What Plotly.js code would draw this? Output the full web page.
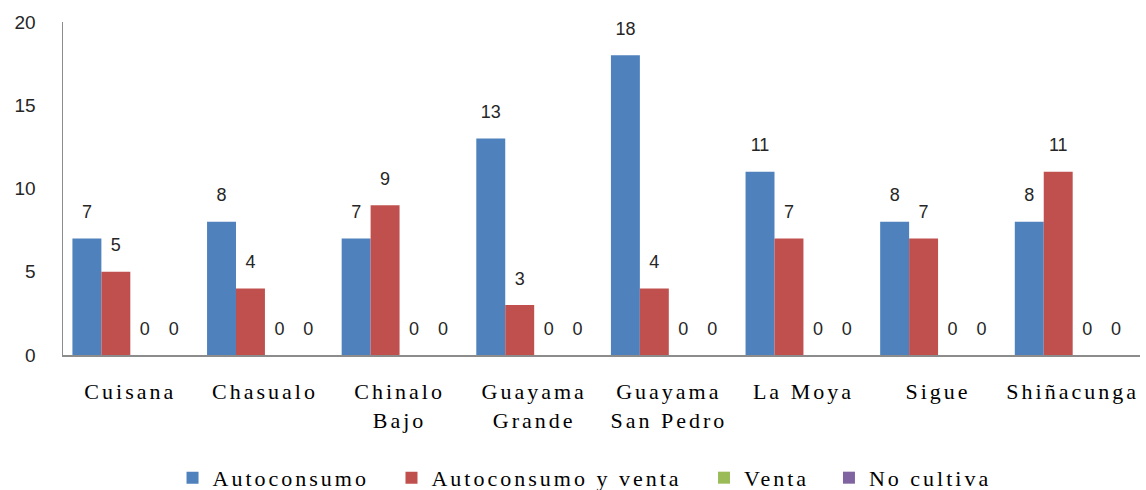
<!DOCTYPE html>
<html>
<head>
<meta charset="utf-8">
<script src="https://cdn.plot.ly/plotly-3.0.1.min.js"></script>
<style>
html,body{margin:0;padding:0;background:#fff;}
#chart{width:1146px;height:490px;}
#chart .xtick text{letter-spacing:3px;}
</style>
</head>
<body>
<div id="chart"></div>
<script>
var categories = ["Cuisana", "Chasualo", "Chinalo<br>Bajo", "Guayama<br>Grande", "Guayama<br>San Pedro", "La Moya", "Sigue", "Shiñacunga"];
var autoconsumo = [7, 8, 7, 13, 18, 11, 8, 8];
var autoconsumoVenta = [5, 4, 9, 3, 4, 7, 7, 11];
var venta = [0, 0, 0, 0, 0, 0, 0, 0];
var noCultiva = [0, 0, 0, 0, 0, 0, 0, 0];
var seriesNames = ["Autoconsumo", "Autoconsumo y venta", "Venta", "No cultiva"];
var seriesColors = ["#4F81BD", "#C0504D", "#9BBB59", "#8064A2"];
var seriesValues = [autoconsumo, autoconsumoVenta, venta, noCultiva];
var yTicks = [0, 5, 10, 15, 20];

var legendIds = ["legend", "legend2", "legend3", "legend4"];
var legendX = [0.1017, 0.3050, 0.5952, 0.7112];

var barTraces = seriesValues.map(function (vals, i) {
  return {
    type: "bar",
    name: '<span style="letter-spacing:3px">' + seriesNames[i] + '</span>',
    legend: legendIds[i],
    x: categories,
    y: vals,
    marker: {color: seriesColors[i]},
    hoverinfo: "x+y"
  };
});

// value labels, grouped like the bars, lifted above each bar top
var labelTraces = seriesValues.map(function (vals, i) {
  return {
    type: "scatter",
    mode: "markers+text",
    showlegend: false,
    x: categories,
    y: vals,
    text: vals.map(String),
    textposition: "top center",
    cliponaxis: false,
    marker: {size: 24, color: "rgba(0,0,0,0)"},
    textfont: {family: "Liberation Sans, Arial, sans-serif", size: 18, color: "#262626"},
    hoverinfo: "skip"
  };
});

var layout = {
  width: 1146,
  height: 490,
  margin: {l: 63, r: 6, t: 22, b: 135, autoexpand: false},
  paper_bgcolor: "#ffffff",
  plot_bgcolor: "#ffffff",
  barmode: "group",
  bargap: 0.14,
  bargroupgap: 0,
  scattermode: "group",
  scattergap: 0.14,
  showlegend: true,
  xaxis: {
    type: "category",
    automargin: false,
    showline: true,
    linecolor: "#8c8c8c",
    linewidth: 1.5,
    showgrid: false,
    ticks: "",
    ticklabelstandoff: 16,
    tickfont: {family: "Liberation Serif, Times New Roman, serif", size: 22, color: "#000"},
    fixedrange: true
  },
  yaxis: {
    range: [0, 20],
    automargin: false,
    tickvals: yTicks,
    ticktext: yTicks.map(String),
    showline: true,
    linecolor: "#8c8c8c",
    linewidth: 1.5,
    showgrid: false,
    zeroline: false,
    ticks: "",
    ticklabelstandoff: 22,
    tickfont: {family: "Liberation Sans, Arial, sans-serif", size: 19, color: "#262626"},
    fixedrange: true
  }
};

legendIds.forEach(function (id, i) {
  layout[id] = {
    orientation: "h",
    x: legendX[i], xanchor: "left",
    y: -0.369, yanchor: "middle",
    font: {family: "Liberation Serif, Times New Roman, serif", size: 22, color: "#000"},
    itemwidth: 30,
    bgcolor: "rgba(0,0,0,0)"
  };
});

Plotly.newPlot("chart", barTraces.concat(labelTraces), layout, {displayModeBar: false, staticPlot: true});
</script>
</body>
</html>
